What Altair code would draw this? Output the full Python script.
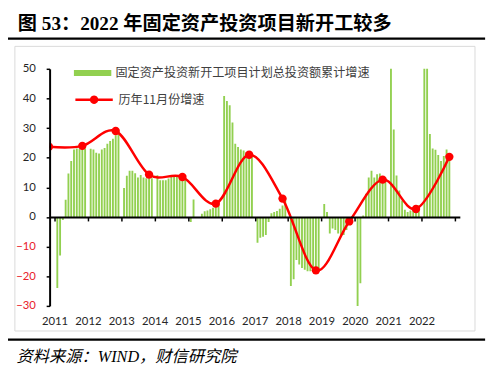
import math
import altair as alt
import pandas as pd

# ---------------- data ----------------
# Monthly cumulative growth (%), Feb..Dec of each year (Jan-Feb reported as Feb)
bar_years = list(range(2011, 2023))
bar_values = {
    2011: [-24.0, -13.0, -1.0, 5.8, 14.7, 18.9, 22.8, 23.1, 23.1, 23.6, 23.1],
    2012: [23.0, 22.8, 21.7, 21.4, 22.8, 23.3, 24.7, 25.6, 26.4, 27.6, 28.3],
    2013: [9.8, 13.9, 15.6, 15.6, 14.8, 13.3, 14.2, 13.3, 13.1, 13.1, 13.1],
    2014: [14.1, 12.4, 12.4, 12.4, 13.0, 13.6, 13.9, 13.9, 13.6, 13.6, 13.0],
    2015: [-1.7, 5.9, 0.0, 0.0, 1.1, 1.9, 2.2, 2.6, 3.1, 3.9, 4.4],
    2016: [40.8, 39.1, 37.7, 31.9, 24.7, 23.6, 22.8, 22.4, 21.9, 21.3, 20.6],
    2017: [-8.7, -7.0, -6.7, -6.1, -1.7, 1.3, 1.7, 2.0, 2.8, 3.9, 6.1],
    2018: [-23.3, -21.0, -14.5, -16.0, -17.2, -17.8, -18.3, -18.3, -18.3, -18.6, -18.3],
    2019: [4.4, 1.7, -5.6, -3.9, -4.4, -5.6, -6.7, -6.1, -4.4, -2.2, -1.1],
    2020: [-31.0, -22.4, 0.5, 7.8, 13.3, 15.6, 13.3, 14.4, 14.7, 12.8, 12.2],
    2021: [64.0, 29.5, 14.0, 8.9, 5.6, 2.4, 1.7, 2.2, 3.0, 2.6, 4.0],
    2022: [67.6, 60.5, 28.0, 23.1, 22.7, 20.9, 18.9, 20.6, 22.8, 20.3],
}
# November growth of each year (red line)
line_years = [2010, 2011, 2012, 2013, 2014, 2015, 2016, 2017, 2018, 2019, 2020, 2021, 2022]
line_values = [23.7, 24.0, 29.0, 14.3, 13.5, 4.5, 21.0, 6.2, -18.0, -1.5, 12.6, 2.7, 20.3]

bar_name = "固定资产投资新开工项目计划总投资额累计增速"
line_name = "历年11月份增速"
title_text = "图 53：2022 年固定资产投资项目新开工较多"
source_text = "资料来源：WIND，财信研究院"
x_ticks = list(range(2011, 2024))
y_ticks = list(range(-30, 51, 10))

# ---------------- tables ----------------
rows = []
for yr in bar_years:
    for i, v in enumerate(bar_values[yr]):
        month = i + 2
        rows.append({"x": yr + (month - 1) / 12.0, "v": v, "series": bar_name})
bars_df = pd.DataFrame(rows)
line_df = pd.DataFrame({
    "x": [y + 10 / 12.0 for y in line_years],
    "v": line_values,
    "series": [line_name] * len(line_years),
})

# ---------------- layout constants (pixels) ----------------
W, H = 417, 241
PAD_L, PAD_T = 42.3, 58.8
TOTAL_W, TOTAL_H = 492, 365
zero_y = H * 50 / 80.0

LABEL_FONT = "Lato"
CJK_FONT = "Noto Sans CJK SC"

xscale = alt.Scale(domain=[2011, 2023], nice=False, zero=False)
yscale = alt.Scale(domain=[-30, 50], nice=False, zero=False)

x_axis = alt.Axis(
    values=x_ticks, format="d",
    labelExpr="datum.value >= 2023 ? '' : datum.label",
    offset=-(H - zero_y), tickSize=4, tickWidth=1.5, tickColor="#000000",
    domainColor="#000000", domainWidth=2, labelPadding=96.5,
    labelFlush=False, labelOverlap=False, labelBound=False,
    labelFont=LABEL_FONT, labelFontSize=11.5, labelColor="#262626",
    grid=False, title=None, zindex=1,
)
y_axis = alt.Axis(
    values=y_ticks, tickSize=3.5, tickWidth=1.5, tickColor="#000000",
    domainColor="#000000", domainWidth=2, labelPadding=11,
    labelOverlap=False, labelFlush=False, labelBound=False,
    labelFont=LABEL_FONT, labelFontSize=11.5,
    labelColor={"condition": {"test": "datum.value < 0", "value": "#e8202a"}, "value": "#262626"},
    grid=False, title=None, zindex=1,
)

rect_path = "M-1,-0.16L1,-0.16L1,0.16L-1,0.16Z"
r = 0.16
circle = "M" + "L".join(
    f"{r*math.cos(2*math.pi*k/20):.3f},{r*math.sin(2*math.pi*k/20):.3f}" for k in range(20)
) + "Z"
line_path = "M-1,0L1,0" + circle

one = pd.DataFrame({"k": [0]})

border = alt.Chart(one).mark_rect(fillOpacity=0, stroke="#d9d9d9", strokeWidth=1).encode(
    x=alt.value(-35.3), x2=alt.value(432.4), y=alt.value(-22.8), y2=alt.value(266.5)
)
top_rule = alt.Chart(one).mark_rule(color="#000000", strokeWidth=2.3).encode(
    x=alt.value(-46), x2=alt.value(442.7), y=alt.value(-30.8)
)
bottom_rule = alt.Chart(one).mark_rule(color="#000000", strokeWidth=2.3).encode(
    x=alt.value(-46), x2=alt.value(442.7), y=alt.value(275.2)
)

bars = alt.Chart(bars_df).mark_bar(size=1.9, clip=True).encode(
    x=alt.X("x:Q", scale=xscale, axis=x_axis),
    y=alt.Y("v:Q", scale=yscale, axis=y_axis),
    color=alt.Color("series:N", scale=alt.Scale(domain=[bar_name], range=["#92d050"]),
                    legend=alt.Legend(title=None, orient="none", legendX=24.7, legendY=-14.8,
                                      symbolType=rect_path, symbolSize=1444, symbolStrokeWidth=0,
                                      labelFont=CJK_FONT, labelFontSize=12.3, labelColor="#404040",
                                      labelOffset=4.3, padding=0, labelLimit=400)),
)

line = alt.Chart(line_df).mark_line(interpolate="cardinal", clip=True, color="#ff0000",
                                    strokeWidth=2.5).encode(
    x=alt.X("x:Q", scale=xscale, axis=x_axis),
    y=alt.Y("v:Q", scale=yscale, axis=y_axis),
)
points = alt.Chart(line_df).mark_circle(size=72, opacity=1, clip=True).encode(
    x=alt.X("x:Q", scale=xscale, axis=x_axis),
    y=alt.Y("v:Q", scale=yscale, axis=y_axis),
    fill=alt.Fill("series:N", scale=alt.Scale(domain=[line_name], range=["#ff0000"]),
                  legend=alt.Legend(title=None, orient="none", legendX=24.7, legendY=10.9,
                                    symbolType=line_path, symbolSize=1444,
                                    symbolStrokeColor="#ff0000", symbolStrokeWidth=2.5,
                                    labelFont=CJK_FONT, labelFontSize=12.3, labelColor="#404040",
                                    labelOffset=4.3, padding=0, labelLimit=400)),
)

title = alt.Chart(pd.DataFrame({"t": [title_text]})).mark_text(
    align="left", baseline="middle", fontSize=19.5, fontWeight="bold",
    font="Liberation Serif, " + CJK_FONT, color="#000000",
).encode(text="t:N", x=alt.value(-32.3), y=alt.value(-45.8))

source = alt.Chart(pd.DataFrame({"t": [source_text]})).mark_text(
    align="left", baseline="middle", fontSize=16.5, fontStyle="italic",
    font="Liberation Serif, " + CJK_FONT, color="#000000",
).encode(text="t:N", x=alt.value(-33.6), y=alt.value(293.2))

chart = alt.layer(border, top_rule, bottom_rule, bars, line, points, title, source).resolve_scale(
    color="independent", fill="independent"
).properties(
    width=W, height=H,
    autosize=alt.AutoSizeParams(type="none"),
    padding={"left": PAD_L, "top": PAD_T, "right": TOTAL_W - PAD_L - W, "bottom": TOTAL_H - PAD_T - H},
    background="#ffffff",
).configure_view(strokeWidth=0)

chart.save("out.html", embed_options={"renderer": "svg", "actions": False})
